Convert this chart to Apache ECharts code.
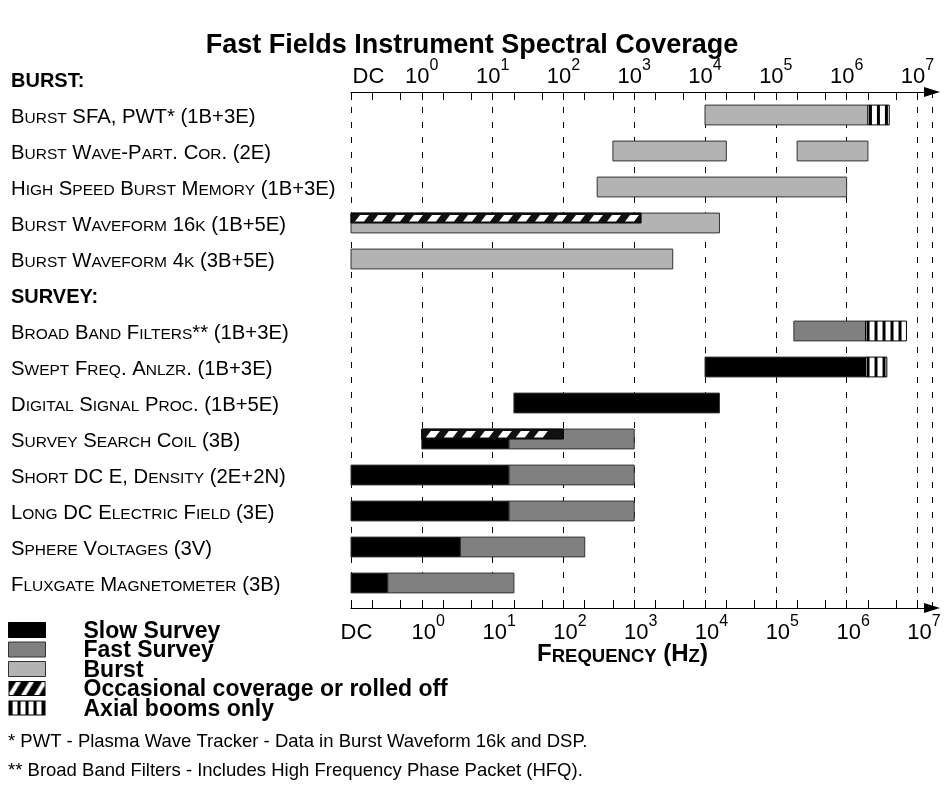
<!DOCTYPE html>
<html>
<head>
<meta charset="utf-8">
<title>Fast Fields Instrument Spectral Coverage</title>
<script src="https://cdn.jsdelivr.net/npm/echarts@6/dist/echarts.min.js"></script>
<style>
html, body { margin: 0; padding: 0; background: #ffffff; }
#chart { width: 944px; height: 805px; }
</style>
</head>
<body>
<div id="chart"></div>
<script>
// ---------------- data ----------------
const rowLabels = [
  'BURST:',
  'Burst SFA, PWT* (1B+3E)',
  'Burst Wave-Part. Cor. (2E)',
  'High Speed Burst Memory (1B+3E)',
  'Burst Waveform 16k (1B+5E)',
  'Burst Waveform 4k (3B+5E)',
  'SURVEY:',
  'Broad Band Filters** (1B+3E)',
  'Swept Freq. Anlzr. (1B+3E)',
  'Digital Signal Proc. (1B+5E)',
  'Survey Search Coil (3B)',
  'Short DC E, Density (2E+2N)',
  'Long DC Electric Field (3E)',
  'Sphere Voltages (3V)',
  'Fluxgate Magnetometer (3B)'
];
const headerRows = ['BURST:', 'SURVEY:'];
const tickLabels = ['DC', '10^0', '10^1', '10^2', '10^3', '10^4', '10^5', '10^6', '10^7'];
const tickFreqs = [0, 1, 10, 100, 1e3, 1e4, 1e5, 1e6, 1e7];           // 0 Hz = DC
const minorTickFreqs = [0.2, 0.5, 2, 5, 20, 50, 200, 500, 2e3, 5e3, 2e4, 5e4, 2e5, 5e5, 2e6, 5e6];

// [row label, start Hz, end Hz]   (0 Hz = DC)
const burst = [
  ['Burst SFA, PWT* (1B+3E)', 1e4, 2e6],
  ['Burst Wave-Part. Cor. (2E)', 500, 2e4],
  ['Burst Wave-Part. Cor. (2E)', 2e5, 2e6],
  ['High Speed Burst Memory (1B+3E)', 300, 1e6],
  ['Burst Waveform 16k (1B+5E)', 0, 1.6e4],
  ['Burst Waveform 4k (3B+5E)', 0, 3500]
];
const fastSurvey = [
  ['Broad Band Filters** (1B+3E)', 1.8e5, 1.85e6],
  ['Survey Search Coil (3B)', 17, 1000],
  ['Short DC E, Density (2E+2N)', 17, 1000],
  ['Long DC Electric Field (3E)', 17, 1000],
  ['Sphere Voltages (3V)', 3.5, 200],
  ['Fluxgate Magnetometer (3B)', 0.33, 20]
];
const slowSurvey = [
  ['Swept Freq. Anlzr. (1B+3E)', 1e4, 1.85e6],
  ['Digital Signal Proc. (1B+5E)', 20, 1.6e4],
  ['Survey Search Coil (3B)', 1, 17],
  ['Short DC E, Density (2E+2N)', 0, 17],
  ['Long DC Electric Field (3E)', 0, 17],
  ['Sphere Voltages (3V)', 0, 3.5],
  ['Fluxgate Magnetometer (3B)', 0, 0.33]
];
const occasional = [
  ['Burst Waveform 16k (1B+5E)', 0, 1250],
  ['Survey Search Coil (3B)', 1, 100]
];
const axialOnly = [
  ['Burst SFA, PWT* (1B+3E)', 2e6, 4e6],
  ['Broad Band Filters** (1B+3E)', 1.85e6, 7e6],
  ['Swept Freq. Anlzr. (1B+3E)', 1.85e6, 3.7e6]
];

// ---------------- helpers ----------------
const FONT = '"Liberation Sans", Arial, Helvetica, sans-serif';
const toAxis = f => (f === 0 ? -1 : Math.log10(f));
const majorVals = tickFreqs.map(toAxis);
const tickVals = majorVals.concat(minorTickFreqs.map(toAxis)).sort((a, b) => a - b);
const toData = arr => arr.map(d => [rowLabels.indexOf(d[0]), toAxis(d[1]), toAxis(d[2])]);

function smallCaps(str, bigTok, smallTok) {
  let out = '', cur = null, buf = '';
  for (const ch of str) {
    const t = (ch >= 'a' && ch <= 'z') ? smallTok : bigTok;
    if (t !== cur && buf) { out += '{' + cur + '|' + buf + '}'; buf = ''; }
    cur = t;
    buf += (t === smallTok ? ch.toUpperCase() : ch);
  }
  if (buf) out += '{' + cur + '|' + buf + '}';
  return out;
}

function makeTickFormatter(dcTok, baseTok) {
  return function (val) {
    const i = majorVals.findIndex(t => Math.abs(t - val) < 1e-6);
    if (i < 0) return '';
    const lab = tickLabels[i];
    if (lab.indexOf('^') < 0) return '{' + dcTok + '|' + lab + '}';
    const parts = lab.split('^');
    return '{' + baseTok + '|' + parts[0] + '}{sup|' + parts[1] + '}';
  };
}

const baseTick = { fontFamily: FONT, fontSize: 22, color: '#000', lineHeight: 30, verticalAlign: 'bottom' };
const tickRich = {
  b: baseTick,
  bb: Object.assign({}, baseTick, { padding: [0, 0, 0, 13] }),
  sup: { fontFamily: FONT, fontSize: 16, color: '#000', lineHeight: 16, verticalAlign: 'top' },
  dcTop: Object.assign({}, baseTick, { padding: [0, 0, 0, 35] }),
  dcBot: Object.assign({}, baseTick, { padding: [0, 0, 0, 11] })
};

function barRect(api) {
  const row = api.value(0);
  const p0 = api.coord([api.value(1), row]);
  const p1 = api.coord([api.value(2), row]);
  const band = api.size([0, 1])[1];
  const h = band * 0.55;
  return { x: p0[0], y: p0[1] - h / 2, w: p1[0] - p0[0], h: h };
}
function renderSolid(fill) {
  return function (params, api) {
    const r = barRect(api);
    return { type: 'rect', shape: { x: r.x, y: r.y, width: r.w, height: r.h },
      style: { fill: fill, stroke: '#333', lineWidth: 1 } };
  };
}
function renderOccasional(params, api) {
  const r = barRect(api);
  const hh = r.h / 2;
  const children = [{ type: 'rect', shape: { x: r.x, y: r.y, width: r.w, height: hh },
    style: { fill: '#111', stroke: '#000', lineWidth: 1 } }];
  const period = 18, dash = 9, slant = 5;
  const yt = r.y + 2, yb = r.y + hh - 1.5;
  for (let px = r.x + 4; px + dash + slant <= r.x + r.w - 1; px += period) {
    children.push({ type: 'polygon',
      shape: { points: [[px + slant, yt], [px + slant + dash, yt], [px + dash, yb], [px, yb]] },
      style: { fill: '#fff' } });
  }
  return { type: 'group', children: children };
}
function renderAxial(params, api) {
  const r = barRect(api);
  const children = [{ type: 'rect', shape: { x: r.x, y: r.y, width: r.w, height: r.h },
    style: { fill: '#fff', stroke: '#000', lineWidth: 1 } }];
  for (let px = r.x + 1; px + 3 <= r.x + r.w - 1; px += 8) {
    children.push({ type: 'rect', shape: { x: px, y: r.y, width: 3, height: r.h }, style: { fill: '#000' } });
  }
  return { type: 'group', children: children };
}

const ICON_W = 37, ICON_H = 15;
function iconCanvas(kind) {
  const c = document.createElement('canvas');
  c.width = ICON_W; c.height = ICON_H;
  const g = c.getContext('2d');
  g.fillStyle = '#fff'; g.fillRect(0, 0, ICON_W, ICON_H);
  g.fillStyle = '#000';
  if (kind === 'diag') {
    for (let x = -9; x < ICON_W + 4; x += 13) {
      g.beginPath(); g.moveTo(x + 9, 0); g.lineTo(x + 17, 0); g.lineTo(x + 8, ICON_H); g.lineTo(x, ICON_H); g.closePath(); g.fill();
    }
  } else {
    for (let x = 1; x < ICON_W - 2; x += 8) g.fillRect(x, 0, 3, ICON_H);
  }
  g.strokeStyle = '#000'; g.lineWidth = 1; g.strokeRect(0.5, 0.5, ICON_W - 1, ICON_H - 1);
  return c;
}
const diagPattern = { image: iconCanvas('diag'), repeat: 'repeat' };
const vertPattern = { image: iconCanvas('vert'), repeat: 'repeat' };

// ---------------- layout ----------------
const GRID_LEFT = 351, GRID_W = 581, X_MIN = -1, X_MAX = 7.206;
const axisCommon = {
  type: 'value', min: X_MIN, max: X_MAX, gridIndex: 0,
  axisLine: { show: true, onZero: false, lineStyle: { color: '#000', width: 1.2 }, symbol: ['none', 'triangle'], symbolSize: [10, 16] },
  axisTick: { show: true, inside: true, length: 8, lineStyle: { color: '#000', width: 1 }, customValues: tickVals },
  splitLine: { show: false },
  minorTick: { show: false }
};

const chart = echarts.init(document.getElementById('chart'), null, { renderer: 'canvas' });
chart.setOption({
  backgroundColor: '#fff',
  animation: false,
  title: [
    { text: 'Fast Fields Instrument Spectral Coverage', left: 'center', top: 30, padding: 0,
      textStyle: { fontFamily: FONT, fontSize: 27, fontWeight: 'bold', color: '#000', lineHeight: 32 } },
    { text: '* PWT - Plasma Wave Tracker - Data in Burst Waveform 16k and DSP.\n** Broad Band Filters - Includes High Frequency Phase Packet (HFQ).',
      left: 8, top: 727, padding: 0,
      textStyle: { fontFamily: FONT, fontSize: 18.5, fontWeight: 'normal', color: '#000', lineHeight: 29 } }
  ],
  legend: {
    orient: 'vertical', left: 8, top: 617, padding: 0, itemGap: -6.5,
    itemWidth: ICON_W, itemHeight: ICON_H, selectedMode: false,
    formatter: name => '{t|' + name + '}',
    textStyle: { fontFamily: FONT, fontSize: 23, fontWeight: 'bold', color: '#000',
      rich: { t: { fontFamily: FONT, fontSize: 23, fontWeight: 'bold', color: '#000', lineHeight: 21, padding: [3, 0, 0, 33] } } },
    data: [
      { name: 'Slow Survey', icon: 'rect', itemStyle: { color: '#000', borderColor: '#000', borderWidth: 1 } },
      { name: 'Fast Survey', icon: 'rect', itemStyle: { color: '#808080', borderColor: '#333', borderWidth: 1 } },
      { name: 'Burst', icon: 'rect', itemStyle: { color: '#b3b3b3', borderColor: '#333', borderWidth: 1 } },
      { name: 'Occasional coverage or rolled off', icon: 'rect', itemStyle: { color: diagPattern, borderWidth: 0 } },
      { name: 'Axial booms only', icon: 'rect', itemStyle: { color: vertPattern, borderWidth: 0 } }
    ]
  },
  grid: [
    { left: GRID_LEFT, width: GRID_W, top: 92, bottom: 197 },   // visible axes
    { left: GRID_LEFT, width: GRID_W, top: 61, height: 540 },   // rows / bars
    { left: GRID_LEFT, width: GRID_W, top: 92, bottom: 197 }    // dashed decade lines
  ],
  xAxis: [
    Object.assign({}, axisCommon, { position: 'top',
      axisLabel: { show: true, margin: 4, customValues: majorVals, formatter: makeTickFormatter('dcTop', 'b'), rich: tickRich } }),
    Object.assign({}, axisCommon, { position: 'bottom',
      axisLabel: { show: true, margin: 5.5, customValues: majorVals, formatter: makeTickFormatter('dcBot', 'bb'), rich: tickRich },
      name: smallCaps('Frequency (Hz)', 'nb', 'ns'), nameLocation: 'middle', nameGap: 30, nameMoveOverlap: false,
      nameTextStyle: { padding: [0, 38, 0, 0], rich: {
        nb: { fontFamily: FONT, fontSize: 24, fontWeight: 'bold', color: '#000', lineHeight: 28, verticalAlign: 'bottom' },
        ns: { fontFamily: FONT, fontSize: 18.5, fontWeight: 'bold', color: '#000', lineHeight: 22, verticalAlign: 'bottom' } } } }),
    { type: 'value', gridIndex: 1, min: X_MIN, max: X_MAX, show: false },
    { type: 'value', gridIndex: 2, min: X_MIN, max: X_MAX, interval: 1,
      axisLine: { show: false }, axisTick: { show: false }, axisLabel: { show: false },
      splitLine: { show: true, lineStyle: { color: '#000', width: 1, type: [6, 9] } } }
  ],
  yAxis: [
    { type: 'value', gridIndex: 0, show: false },
    { type: 'category', gridIndex: 1, data: rowLabels, inverse: true,
      axisLine: { show: false }, axisTick: { show: false }, splitLine: { show: false },
      axisLabel: { show: true, interval: 0, align: 'left', margin: GRID_LEFT - 11,
        formatter: v => headerRows.indexOf(v) >= 0 ? '{h|' + v + '}' : smallCaps(v, 'b', 's'),
        rich: {
          h: { fontFamily: FONT, fontSize: 20, fontWeight: 'bold', color: '#000', lineHeight: 24, verticalAlign: 'bottom' },
          b: { fontFamily: FONT, fontSize: 20.3, color: '#000', lineHeight: 24, verticalAlign: 'bottom' },
          s: { fontFamily: FONT, fontSize: 15.5, color: '#000', lineHeight: 19, verticalAlign: 'bottom' }
        } } },
    { type: 'value', gridIndex: 2, show: false }
  ],
  series: [
    { name: 'Burst', type: 'custom', xAxisIndex: 2, yAxisIndex: 1, renderItem: renderSolid('#b3b3b3'),
      itemStyle: { color: '#b3b3b3' }, encode: { x: [1, 2], y: 0 }, data: toData(burst) },
    { name: 'Fast Survey', type: 'custom', xAxisIndex: 2, yAxisIndex: 1, renderItem: renderSolid('#808080'),
      itemStyle: { color: '#808080' }, encode: { x: [1, 2], y: 0 }, data: toData(fastSurvey) },
    { name: 'Slow Survey', type: 'custom', xAxisIndex: 2, yAxisIndex: 1, renderItem: renderSolid('#000'),
      itemStyle: { color: '#000' }, encode: { x: [1, 2], y: 0 }, data: toData(slowSurvey) },
    { name: 'Occasional coverage or rolled off', type: 'custom', xAxisIndex: 2, yAxisIndex: 1, renderItem: renderOccasional,
      itemStyle: { color: diagPattern }, encode: { x: [1, 2], y: 0 }, data: toData(occasional) },
    { name: 'Axial booms only', type: 'custom', xAxisIndex: 2, yAxisIndex: 1, renderItem: renderAxial,
      itemStyle: { color: vertPattern }, encode: { x: [1, 2], y: 0 }, data: toData(axialOnly) }
  ]
});
</script>
</body>
</html>
